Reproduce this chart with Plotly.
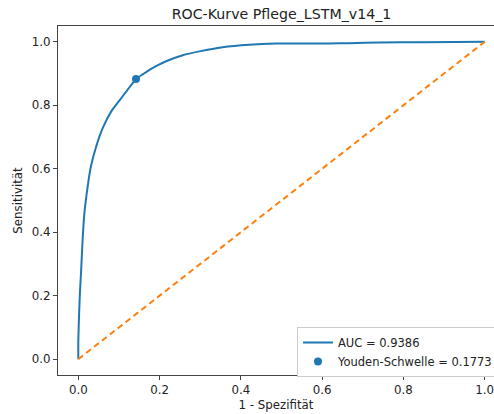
import plotly.graph_objects as go

# ROC curve values
fpr = [0.0, 0.0, 0.002, 0.004, 0.007, 0.011, 0.015, 0.023, 0.031, 0.044, 0.06,
       0.081, 0.101, 0.122, 0.142, 0.16, 0.175, 0.196, 0.216, 0.257, 0.298,
       0.355, 0.42, 0.487, 0.618, 0.667, 0.741, 0.85, 1.0]
tpr = [0.0, 0.06, 0.144, 0.21, 0.281, 0.386, 0.46, 0.544, 0.607, 0.67, 0.728,
       0.781, 0.815, 0.85, 0.883, 0.899, 0.912, 0.927, 0.939, 0.958, 0.970,
       0.983, 0.991, 0.995, 0.995, 0.996, 0.998, 0.999, 1.0]
diag_x = [0.0, 1.0]
diag_y = [0.0, 1.0]
youden_x = [0.142]
youden_y = [0.883]
auc_label = "AUC = 0.9386"
youden_label = "Youden-Schwelle = 0.1773"
title_text = "ROC-Kurve Pflege_LSTM_v14_1"
x_ticks = [0.0, 0.2, 0.4, 0.6, 0.8, 1.0]
y_ticks = [0.0, 0.2, 0.4, 0.6, 0.8, 1.0]

W, H = 494, 414
L, R, T, B = 58, 0, 26, 39

fig = go.Figure()
fig.add_trace(go.Scatter(x=fpr, y=tpr, mode="lines", name=auc_label,
                         line=dict(color="#1f77b4", width=2, shape="spline", smoothing=0.6)))
fig.add_trace(go.Scatter(x=diag_x, y=diag_y, mode="lines", showlegend=False,
                         line=dict(color="#ff7f0e", width=2, dash="6px,4px")))
fig.add_trace(go.Scatter(x=youden_x, y=youden_y, mode="markers", name=youden_label,
                         marker=dict(color="#1f77b4", size=8)))

font = dict(family="DejaVu Sans", size=11.8, color="#222")
axis_common = dict(showgrid=False, zeroline=False, showline=True, linecolor="#444",
                   linewidth=1, ticks="outside", ticklen=4, tickcolor="#444",
                   tickfont=font, tickformat=".1f", ticklabeloverflow="allow")

fig.update_layout(
    width=W, height=H,
    margin=dict(l=L, r=R, t=T, b=B, autoexpand=False),
    plot_bgcolor="white", paper_bgcolor="white",
    font=font,
    title=dict(text=title_text, font=dict(family="DejaVu Sans", size=14.2, color="#222"),
               x=281.5 / W, xref="container", xanchor="center",
               y=1 - 14 / H, yref="container", yanchor="middle"),
    xaxis=dict(range=[-0.05, -0.05 + (W - L) / 406.3], tickvals=x_ticks, mirror=True,
               title=dict(text="1 - Spezifität", font=font, standoff=4),
               **axis_common),
    yaxis=dict(range=[-0.05, 1.05], tickvals=y_ticks,
               title=dict(text="Sensitivität", font=font, standoff=6),
               **axis_common),
    legend=dict(x=(297 - L) / (W - L), xanchor="left", y=(375 - 327) / (H - T - B),
                yanchor="top", bgcolor="white", bordercolor="#cccccc", borderwidth=1,
                font=dict(family="DejaVu Sans", size=11.5, color="#222"),
                itemwidth=30, tracegroupgap=0),
    showlegend=True,
)

fig.write_html("out.html", config={"displayModeBar": False},
               post_script="document.body.style.margin='0';document.body.style.overflow='hidden';")
